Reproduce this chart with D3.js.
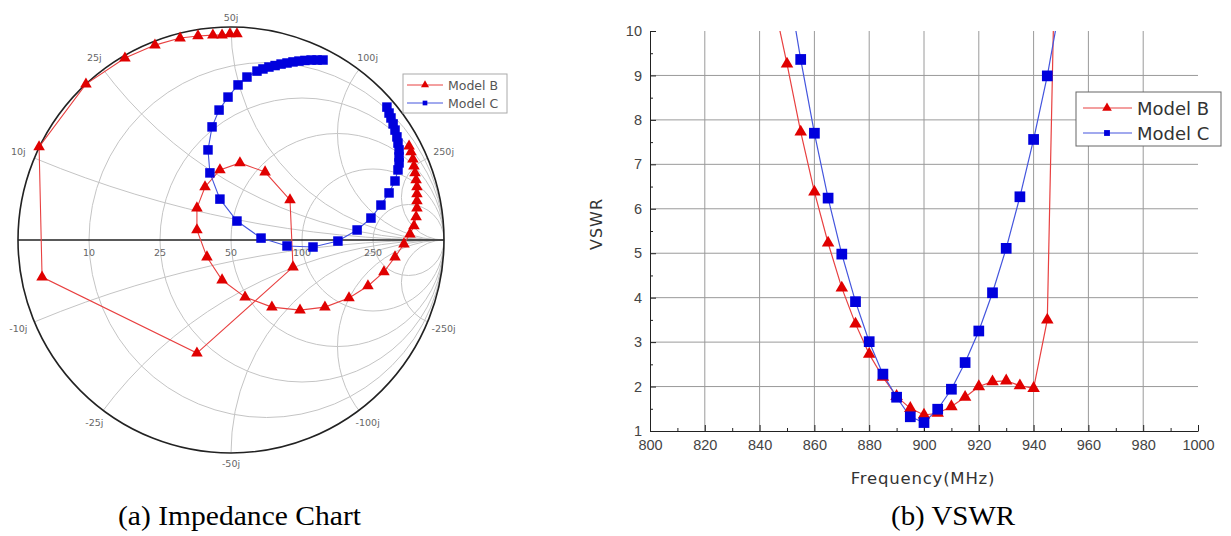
<!DOCTYPE html>
<html><head><meta charset="utf-8">
<script src="https://cdn.jsdelivr.net/npm/d3@7"></script>
<style>body{margin:0;background:#fff}svg{display:block}</style>
</head><body>
<svg id="c" width="1231" height="536"></svg>
<script>
// ---------- DATA ----------
const smithB_re = [0.028,-0.005,-0.042,-0.085,-0.155,-0.239,-0.357,-0.498,-0.681,-0.901,-0.887,-0.160,0.291,0.277,0.160,0.042,-0.052,-0.122,-0.160,-0.160,-0.113,-0.042,0.066,0.192,0.324,0.441,0.554,0.643,0.718,0.770,0.812,0.840,0.859,0.869,0.873,0.873,0.873,0.873,0.869,0.864,0.859,0.854,0.845,0.836];
const smithB_im = [0.967,0.967,0.962,0.962,0.958,0.948,0.915,0.854,0.732,0.437,-0.174,-0.531,-0.127,0.188,0.319,0.362,0.329,0.249,0.150,0.047,-0.080,-0.188,-0.268,-0.315,-0.329,-0.315,-0.272,-0.216,-0.150,-0.080,-0.019,0.028,0.066,0.108,0.150,0.183,0.216,0.249,0.282,0.315,0.347,0.380,0.413,0.441];
const smithC_re = [0.432,0.404,0.376,0.347,0.319,0.291,0.263,0.235,0.207,0.178,0.150,0.122,0.075,0.033,-0.014,-0.056,-0.089,-0.108,-0.099,-0.052,0.028,0.141,0.263,0.385,0.502,0.592,0.657,0.704,0.742,0.770,0.784,0.789,0.789,0.789,0.784,0.779,0.770,0.761,0.751,0.742,0.732];
const smithC_im = [0.845,0.845,0.845,0.843,0.840,0.836,0.831,0.826,0.819,0.812,0.803,0.793,0.765,0.728,0.671,0.610,0.531,0.423,0.315,0.192,0.089,0.009,-0.028,-0.033,-0.005,0.047,0.103,0.164,0.221,0.277,0.329,0.362,0.390,0.423,0.455,0.484,0.516,0.545,0.573,0.596,0.624];
const Z0 = 50;
const resistanceOhms = [10, 25, 50, 100, 250];
const resistanceLabels = ["10", "25", "50", "100", "250"];
const reactanceOhms = [10, 25, 50, 100, 250];
const reactancePosLabels = ["10j", "25j", "50j", "100j", "250j"];
const reactanceNegLabels = ["-10j", "-25j", "-50j", "-100j", "-250j"];

// VSWR chart
const freqB = [845,850,855,860,865,870,875,880,885,890,895,900,905,910,915,920,925,930,935,940,945,950];
const vswrB = [10.7,9.26,7.73,6.38,5.23,4.22,3.41,2.73,2.21,1.78,1.51,1.36,1.40,1.55,1.76,2.00,2.11,2.13,2.02,1.96,3.50,18.3];
const freqC = [850,855,860,865,870,875,880,885,890,895,900,905,910,915,920,925,930,935,940,945,950];
const vswrC = [11.2,9.36,7.70,6.24,4.98,3.91,3.01,2.28,1.76,1.32,1.19,1.49,1.94,2.54,3.25,4.11,5.11,6.27,7.56,8.99,10.7];
const freqTicks = [800,820,840,860,880,900,920,940,960,980,1000];
const freqMinor = [810,830,850,870,890,910,930,950,970,990];
const vswrTicks = [1,2,3,4,5,6,7,8,9,10];
const vswrMinor = [1.5,2.5,3.5,4.5,5.5,6.5,7.5,8.5,9.5];
const freqGrid = [820,840,860,880,900,920,940,960,980];
const vswrGrid = [2,3,4,5,6,7,8,9];
const seriesNames = ["Model B", "Model C"];
const captions = ["(a) Impedance Chart", "(b) VSWR"];

// ---------- STYLE ----------
const RED = "#e00000", BLUE = "#0000dd";
const RED_LINE = "#e84040", BLUE_LINE = "#4455dd";

const svg = d3.select("#c");
svg.append("rect").attr("width",1231).attr("height",536).attr("fill","#fff");
const defs = svg.append("defs");

// ---------- SMITH CHART ----------
const sx = d3.scaleLinear().domain([-1,1]).range([18,444]);
const sy = d3.scaleLinear().domain([-1,1]).range([453,27]);
const R = sx(1) - sx(0);

defs.append("clipPath").attr("id","unit").append("circle")
  .attr("cx", sx(0)).attr("cy", sy(0)).attr("r", R);

const sg = svg.append("g");
const grid = sg.append("g").attr("clip-path","url(#unit)")
  .attr("fill","none").attr("stroke","#c4c4c4").attr("stroke-width",1);
resistanceOhms.forEach(o => {
  const r = o / Z0;
  grid.append("circle").attr("cx", sx(r/(1+r))).attr("cy", sy(0)).attr("r", R/(1+r));
});
reactanceOhms.forEach(o => {
  const x = o / Z0;
  [1,-1].forEach(s => {
    grid.append("circle").attr("cx", sx(1)).attr("cy", sy(s/x)).attr("r", R/x);
  });
});
sg.append("circle").attr("cx", sx(0)).attr("cy", sy(0)).attr("r", R)
  .attr("fill","none").attr("stroke","#222").attr("stroke-width",1.6);
sg.append("line").attr("x1", sx(-1)).attr("x2", sx(1)).attr("y1", sy(0)).attr("y2", sy(0))
  .attr("stroke","#222").attr("stroke-width",1.6);

const lblStyle = s => s.attr("font-family","DejaVu Sans, sans-serif").attr("font-size",9.5)
  .attr("fill","#666").attr("text-anchor","middle").attr("dominant-baseline","central");
resistanceOhms.forEach((o,i) => {
  const r = o / Z0;
  sg.append("text").attr("x", sx((r-1)/(r+1))).attr("y", sy(0) + 12)
    .text(resistanceLabels[i]).call(lblStyle);
});
reactanceOhms.forEach((o,i) => {
  const x = o / Z0;
  [[1, reactancePosLabels[i]], [-1, reactanceNegLabels[i]]].forEach(([s, t]) => {
    const gr = (x*x - 1)/(x*x + 1), gi = s * 2*x/(x*x + 1);
    const d = 10 + 8*Math.abs(gr);
    sg.append("text").attr("x", sx(gr) + gr*d).attr("y", sy(gi) - gi*d).text(t).call(lblStyle);
  });
});

const sLine = d3.line().x(d => sx(d[0])).y(d => sy(d[1]));
const ptsB = smithB_re.map((v,i) => [v, smithB_im[i]]);
const ptsC = smithC_re.map((v,i) => [v, smithC_im[i]]);
sg.append("path").attr("d", sLine(ptsB)).attr("fill","none").attr("stroke",RED_LINE).attr("stroke-width",1.1);
sg.append("path").attr("d", sLine(ptsC)).attr("fill","none").attr("stroke",BLUE_LINE).attr("stroke-width",1.1);
const triS = d3.symbol().type(d3.symbolTriangle).size(58);
const sqS = d3.symbol().type(d3.symbolSquare).size(90);
sg.selectAll(".mb").data(ptsB).join("path")
  .attr("transform", d => `translate(${sx(d[0])},${sy(d[1])})`).attr("d", triS).attr("fill", RED);
sg.selectAll(".mc").data(ptsC).join("path")
  .attr("transform", d => `translate(${sx(d[0])},${sy(d[1])})`).attr("d", sqS).attr("fill", BLUE);

// Smith legend
const lg1 = svg.append("g").attr("transform","translate(403,74)");
lg1.append("rect").attr("width",104).attr("height",39).attr("fill","#fff").attr("stroke","#aaa");
[[RED_LINE, RED, d3.symbolTriangle, 28], [BLUE_LINE, BLUE, d3.symbolSquare, 22]].forEach(([lc, mc, sym, sz], i) => {
  const y = 11 + i*18;
  lg1.append("line").attr("x1",4).attr("x2",40).attr("y1",y).attr("y2",y).attr("stroke",lc).attr("stroke-width",1);
  lg1.append("path").attr("transform",`translate(22,${y})`).attr("d", d3.symbol().type(sym).size(sz)).attr("fill",mc);
  lg1.append("text").attr("x",45).attr("y",y).attr("dominant-baseline","central")
    .attr("font-family","DejaVu Sans, sans-serif").attr("font-size",12.5).attr("fill","#555")
    .text(seriesNames[i]);
});

// ---------- VSWR CHART ----------
const x = d3.scaleLinear().domain([800,1000]).range([650,1198]);
const y = d3.scaleLinear().domain([1,10]).range([431,31]);
const vg = svg.append("g");

vg.selectAll(".gv").data(freqGrid).join("line")
  .attr("x1", d => x(d)).attr("x2", d => x(d)).attr("y1", y(10)).attr("y2", y(1))
  .attr("stroke","#9a9a9a").attr("stroke-width",1);
vg.selectAll(".gh").data(vswrGrid).join("line")
  .attr("x1", x(800)).attr("x2", x(1000)).attr("y1", d => y(d)).attr("y2", d => y(d))
  .attr("stroke","#9a9a9a").attr("stroke-width",1);

const axisFont = g => {
  g.selectAll("text").attr("font-family","Liberation Sans, Arial, sans-serif").attr("font-size",14.5).attr("fill","#444");
  g.selectAll("path,line").attr("stroke","#222");
};
vg.append("g").attr("transform",`translate(${x(800)},0)`)
  .call(d3.axisLeft(y).tickValues(vswrTicks).tickSize(-6).tickPadding(8).tickSizeOuter(0).tickFormat(d3.format("d")))
  .call(axisFont);
vg.append("g").attr("transform",`translate(${x(800)},0)`)
  .call(d3.axisLeft(y).tickValues(vswrMinor).tickSize(-3).tickSizeOuter(0).tickFormat(""))
  .call(g => g.select(".domain").remove()).call(axisFont);
vg.append("g").attr("transform",`translate(0,${y(1)})`)
  .call(d3.axisBottom(x).tickValues(freqTicks).tickSize(-6).tickPadding(9).tickSizeOuter(0).tickFormat(d3.format("d")))
  .call(axisFont);
vg.append("g").attr("transform",`translate(0,${y(1)})`)
  .call(d3.axisBottom(x).tickValues(freqMinor).tickSize(-3).tickSizeOuter(0).tickFormat(""))
  .call(g => g.select(".domain").remove()).call(axisFont);

defs.append("clipPath").attr("id","plot").append("rect")
  .attr("x", x(800)).attr("y", y(10)).attr("width", x(1000)-x(800)).attr("height", y(1)-y(10));
const vLine = d3.line().x(d => x(d[0])).y(d => y(d[1]));
const dB = freqB.map((f,i) => [f, vswrB[i]]);
const dC = freqC.map((f,i) => [f, vswrC[i]]);
const pg = vg.append("g").attr("clip-path","url(#plot)");
pg.append("path").attr("d", vLine(dB)).attr("fill","none").attr("stroke",RED_LINE).attr("stroke-width",1.2);
pg.append("path").attr("d", vLine(dC)).attr("fill","none").attr("stroke",BLUE_LINE).attr("stroke-width",1.2);
const triV = d3.symbol().type(d3.symbolTriangle).size(68);
const sqV = d3.symbol().type(d3.symbolSquare).size(115);
pg.selectAll(".vb").data(dB.filter(d => d[1] <= 10)).join("path")
  .attr("transform", d => `translate(${x(d[0])},${y(d[1])})`).attr("d", triV).attr("fill", RED);
pg.selectAll(".vc").data(dC.filter(d => d[1] <= 10)).join("path")
  .attr("transform", d => `translate(${x(d[0])},${y(d[1])})`).attr("d", sqV).attr("fill", BLUE);

vg.append("text").attr("transform","translate(602,224) rotate(-90)").attr("text-anchor","middle")
  .attr("font-family","DejaVu Sans, sans-serif").attr("font-size",16).attr("fill","#333")
  .attr("letter-spacing",1).text("VSWR");
vg.append("text").attr("x",923).attr("y",484).attr("text-anchor","middle")
  .attr("font-family","DejaVu Sans, sans-serif").attr("font-size",16.5).attr("fill","#333")
  .attr("letter-spacing",0.8).text("Frequency(MHz)");

// VSWR legend
const lg2 = svg.append("g").attr("transform","translate(1076,92)");
lg2.append("rect").attr("width",145).attr("height",54).attr("fill","#fff").attr("stroke","#666");
[[RED_LINE, RED, d3.symbolTriangle, 40], [BLUE_LINE, BLUE, d3.symbolSquare, 34]].forEach(([lc, mc, sym, sz], i) => {
  const yy = 16 + i*25;
  lg2.append("line").attr("x1",7).attr("x2",56).attr("y1",yy).attr("y2",yy).attr("stroke",lc).attr("stroke-width",1.1);
  lg2.append("path").attr("transform",`translate(31,${yy})`).attr("d", d3.symbol().type(sym).size(sz)).attr("fill",mc);
  lg2.append("text").attr("x",61).attr("y",yy).attr("dominant-baseline","central")
    .attr("font-family","DejaVu Sans, sans-serif").attr("font-size",18).attr("fill","#333")
    .text(seriesNames[i]);
});

// ---------- CAPTIONS ----------
svg.append("text").attr("x",118).attr("y",525).attr("font-family","Liberation Serif, Times New Roman, serif")
  .attr("font-size",27).attr("fill","#000").attr("textLength",243).attr("lengthAdjust","spacingAndGlyphs")
  .text(captions[0]);
svg.append("text").attr("x",891).attr("y",525).attr("font-family","Liberation Serif, Times New Roman, serif")
  .attr("font-size",27).attr("fill","#000").attr("textLength",124).attr("lengthAdjust","spacingAndGlyphs")
  .text(captions[1]);
</script>
</body></html>
